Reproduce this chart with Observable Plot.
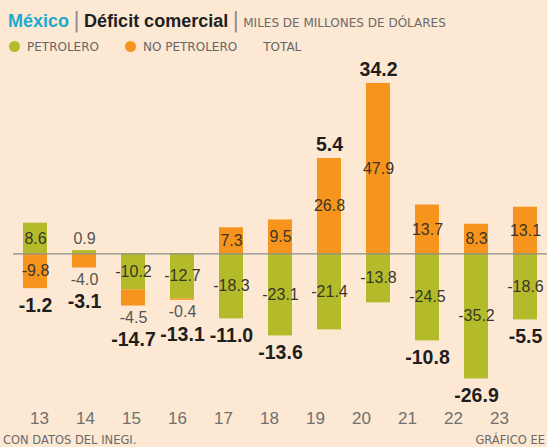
<!DOCTYPE html>
<html><head><meta charset="utf-8">
<script src="https://cdn.jsdelivr.net/npm/d3@7"></script>
<script src="https://cdn.jsdelivr.net/npm/@observablehq/plot@0.6"></script>
<style>
html,body{margin:0;padding:0;}
body{background:#fce8d3;width:547px;height:447px;overflow:hidden;position:relative;font-family:"DejaVu Sans",sans-serif;}
#title{position:absolute;left:8px;top:8px;white-space:nowrap;line-height:24px;}
#title .mx{font-family:"Liberation Sans",Arial,sans-serif;font-weight:bold;font-size:18px;color:#1ea9cf;}
#title .dc{font-family:"Liberation Sans",Arial,sans-serif;font-weight:bold;font-size:18px;color:#1e1e1e;}
#title .sep{font-size:21px;color:#8a8a8a;margin:0 4px;font-weight:normal;}
#title .un{font-size:12px;color:#6a6a6a;}
#legend{position:absolute;left:9px;top:39px;white-space:nowrap;font-size:12px;color:#666;line-height:16px;}
#legend .dot{display:inline-block;width:11px;height:11px;border-radius:50%;vertical-align:-1px;margin-right:7px;}
#legend .item{margin-right:26px;}
#chart{position:absolute;left:0;top:58px;}
#axis{position:absolute;left:0;top:406px;}
#src{position:absolute;left:3px;top:433px;font-size:11.5px;color:#6a6a6a;}
#credit{position:absolute;right:2px;top:433px;font-size:11.5px;color:#6a6a6a;white-space:nowrap;}
</style></head>
<body>
<div id="title"><span class="mx">México</span><span class="sep">|</span><span class="dc">Déficit comercial</span><span class="sep">|</span><span class="un">MILES DE MILLONES DE DÓLARES</span></div>
<div id="legend"><span class="item"><span class="dot" style="background:#b3bb2b"></span>PETROLERO</span><span class="item"><span class="dot" style="background:#f7941e"></span>NO PETROLERO</span><span>TOTAL</span></div>
<div id="chart"></div>
<div id="axis"></div>
<div id="src">CON DATOS DEL INEGI.</div>
<div id="credit">GRÁFICO EE</div>
<script>
const years = ["13","14","15","16","17","18","19","20","21","22","23"];
const petrolero = [8.6, 0.9, -10.2, -12.7, -18.3, -23.1, -21.4, -13.8, -24.5, -35.2, -18.6];
const noPetrolero = [-9.8, -4.0, -4.5, -0.4, 7.3, 9.5, 26.8, 47.9, 13.7, 8.3, 13.1];
const total = [-1.2, -3.1, -14.7, -13.1, -11.0, -13.6, 5.4, 34.2, -10.8, -26.9, -5.5];
const seriesNames = ["PETROLERO", "NO PETROLERO"];
const colors = ["#b3bb2b", "#f7941e"];

const segments = [];
const totals = [];
years.forEach((year, i) => {
  let pos = 0, neg = 0, bottomOutside = false;
  [petrolero[i], noPetrolero[i]].forEach((v, s) => {
    let y1, y2;
    if (v >= 0) { y1 = pos; y2 = pos + v; pos = y2; }
    else { y1 = neg; y2 = neg + v; neg = y2; }
    const outside = Math.abs(v) < 5;
    if (outside && v < 0) bottomOutside = true;
    segments.push({year, series: seriesNames[s], value: v, y1, y2, mid: (y1 + y2) / 2, outside});
  });
  totals.push({year, value: total[i], top: pos, bottom: neg, bottomOutside});
});
const fmt = d => d.value.toFixed(1);
const font = "'Liberation Sans',Arial,sans-serif";

const chart = Plot.plot({
  width: 547, height: 360,
  marginTop: 17.5, marginBottom: 22.5, marginLeft: 13, marginRight: 0,
  style: {background: "transparent", fontFamily: font},
  x: {type: "band", domain: years, paddingInner: 0.52, paddingOuter: 0.18, axis: null},
  y: {domain: [-40, 50], axis: null},
  color: {domain: seriesNames, range: colors},
  marks: [
    Plot.rectY(segments, {x: "year", y1: "y1", y2: "y2", fill: "series"}),
    Plot.ruleY([0], {stroke: "#8d8d86", strokeWidth: 1.2}),
    Plot.text(segments.filter(d => !d.outside), {x: "year", y: "mid", text: fmt, fill: "#3a3626", fontSize: 16, ariaLabel: "cond-small"}),
    Plot.text(segments.filter(d => d.outside && d.value >= 0), {x: "year", y: "y2", text: fmt, dy: -12, fill: "#555", fontSize: 16, ariaLabel: "cond-small"}),
    Plot.text(segments.filter(d => d.outside && d.value < 0), {x: "year", y: "y2", text: fmt, dy: 12, fill: "#555", fontSize: 16, ariaLabel: "cond-small"}),
    Plot.text(totals.filter(d => d.value > 0), {x: "year", y: "top", text: fmt, dy: -14, fill: "#1e1e1e", fontSize: 19.5, fontWeight: "bold", ariaLabel: "cond-big"}),
    Plot.text(totals.filter(d => d.value < 0 && !d.bottomOutside), {x: "year", y: "bottom", text: fmt, dy: 17, fill: "#1e1e1e", fontSize: 19.5, fontWeight: "bold", ariaLabel: "cond-big"}),
    Plot.text(totals.filter(d => d.value < 0 && d.bottomOutside), {x: "year", y: "bottom", text: fmt, dy: 34, fill: "#1e1e1e", fontSize: 19.5, fontWeight: "bold", ariaLabel: "cond-big"})
  ]
});
document.getElementById("chart").appendChild(chart);

// condensed look: squeeze the glyphs horizontally around each label's centre
function condense(svg, label, s) {
  svg.querySelectorAll(`g[aria-label="${label}"] text`).forEach(t => {
    const b = t.getBBox();
    const cx = b.x + b.width / 2;
    const prev = t.getAttribute("transform") || "";
    t.setAttribute("transform", `${prev} translate(${cx},0) scale(${s},1) translate(${-cx},0)`);
  });
}
condense(chart, "cond-small", 0.78);
condense(chart, "cond-big", 0.86);

const axis = Plot.plot({
  width: 547, height: 24, margin: 0,
  style: {background: "transparent", fontFamily: font},
  x: {type: "point", domain: years, range: [35, 502], padding: 0, axis: null},
  marks: [
    Plot.text(years, {x: d => d, text: d => d, fill: "#707070", fontSize: 17})
  ]
});
document.getElementById("axis").appendChild(axis);
</script>
</body></html>
